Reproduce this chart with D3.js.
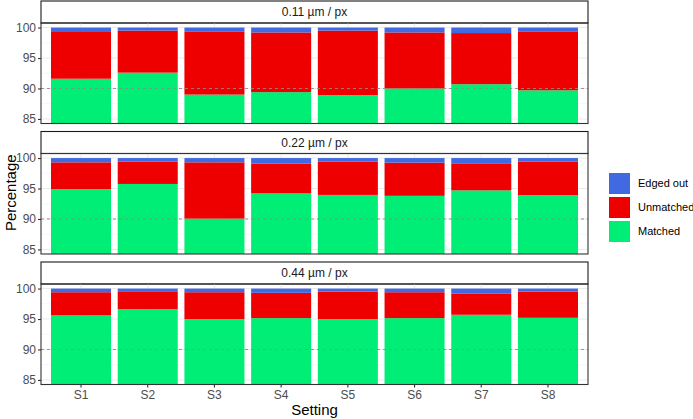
<!DOCTYPE html>
<html>
<head>
<meta charset="utf-8">
<script src="https://cdn.jsdelivr.net/npm/d3@7"></script>
<style>
  body { margin: 0; background: #fff; }
  svg text { font-family: "Liberation Sans", Arial, sans-serif; }
</style>
</head>
<body>
<div id="chart"></div>
<script>
const settings = ['S1', 'S2', 'S3', 'S4', 'S5', 'S6', 'S7', 'S8']
const resolutions = ['0.11 µm / px', '0.22 µm / px', '0.44 µm / px']
const yTicks = [85, 90, 95, 100]

// one array per panel, values in %
const matched = [
    [91.6, 92.6, 89.0, 89.4, 88.9, 90.0, 90.7, 89.7],
    [94.9, 95.75, 90.05, 94.2, 93.95, 93.8, 94.7, 93.9],
    [95.6, 96.6, 95.0, 95.15, 95.0, 95.15, 95.7, 95.2]
]
const unmatched = [
    [7.8, 6.9, 10.3, 9.8, 10.6, 9.2, 8.4, 9.6],
    [4.4, 3.65, 9.25, 4.9, 5.45, 5.45, 4.35, 5.5],
    [3.8, 2.95, 4.4, 4.15, 4.5, 4.25, 3.5, 4.3]
]
const edgedOut = [
    [0.6, 0.5, 0.7, 0.8, 0.5, 0.8, 0.9, 0.7],
    [0.7, 0.6, 0.7, 0.9, 0.6, 0.75, 0.95, 0.6],
    [0.6, 0.45, 0.6, 0.7, 0.5, 0.6, 0.8, 0.5]
]

const keys = ['Matched', 'Unmatched', 'Edged out']
const colors = { 'Matched': '#00EE76', 'Unmatched': '#EE0000', 'Edged out': '#4169E1' }

let width = 693
let height = 419
let left = 41, right = 588
let stripH = 22
let panelH = 100.5
let panelTops = [23, 153.5, 284]

let svg = d3.select('#chart')
    .append('svg')
    .attr('width', width)
    .attr('height', height)

let x = d3.scaleBand()
    .domain(settings)
    .range([left, right])
    .paddingInner(0.1)
    .paddingOuter(0.15)

let stack = d3.stack().keys(keys)

resolutions.forEach((res, p) => {
    let top = panelTops[p]
    let bottom = top + panelH
    let y = d3.scaleLinear()
        .domain([84.25, 100.75])
        .range([bottom, top])

    let rows = settings.map((s, i) => ({
        setting: s,
        'Matched': matched[p][i],
        'Unmatched': unmatched[p][i],
        'Edged out': edgedOut[p][i]
    }))
    let series = stack(rows)

    // strip
    svg.append('rect')
        .attr('x', left).attr('y', top - stripH)
        .attr('width', right - left).attr('height', stripH)
        .attr('fill', '#fff')
        .attr('stroke', '#1a1a1a').attr('stroke-width', 1.1)
    svg.append('text')
        .attr('x', (left + right) / 2).attr('y', top - stripH / 2)
        .attr('dy', '0.35em')
        .attr('text-anchor', 'middle')
        .attr('font-size', 12)
        .attr('fill', '#1a1a1a')
        .text(res)

    let g = svg.append('g')
    let clipId = 'clip' + p
    g.append('clipPath').attr('id', clipId)
        .append('rect')
        .attr('x', left).attr('y', top)
        .attr('width', right - left).attr('height', panelH)

    // grid
    let minor = [87.5, 92.5, 97.5]
    g.selectAll('.minor').data(minor).enter().append('line')
        .attr('x1', left).attr('x2', right)
        .attr('y1', d => y(d)).attr('y2', d => y(d))
        .attr('stroke', '#f2f2f2').attr('stroke-width', 0.6)
    g.selectAll('.major').data(yTicks).enter().append('line')
        .attr('x1', left).attr('x2', right)
        .attr('y1', d => y(d)).attr('y2', d => y(d))
        .attr('stroke', '#ebebeb').attr('stroke-width', 1.1)
    g.selectAll('.vmajor').data(settings).enter().append('line')
        .attr('x1', d => x(d) + x.bandwidth() / 2).attr('x2', d => x(d) + x.bandwidth() / 2)
        .attr('y1', top).attr('y2', bottom)
        .attr('stroke', '#ebebeb').attr('stroke-width', 1.1)

    // bars
    let bars = g.append('g').attr('clip-path', `url(#${clipId})`)
    bars.selectAll('.layer').data(series).enter().append('g')
        .attr('fill', d => colors[d.key])
        .selectAll('rect').data(d => d).enter().append('rect')
        .attr('x', d => x(d.data.setting))
        .attr('width', x.bandwidth())
        .attr('y', d => y(d[1]))
        .attr('height', d => y(d[0]) - y(d[1]))

    // dashed reference at 90
    g.append('line')
        .attr('x1', left).attr('x2', right)
        .attr('y1', y(90)).attr('y2', y(90))
        .attr('stroke', '#8c8c8c').attr('stroke-width', 0.9)
        .attr('stroke-dasharray', '3,3')

    // panel border
    g.append('rect')
        .attr('x', left).attr('y', top)
        .attr('width', right - left).attr('height', panelH)
        .attr('fill', 'none')
        .attr('stroke', '#333').attr('stroke-width', 1.1)

    // y axis
    let yAxis = d3.axisLeft(y).tickValues(yTicks).tickSize(3).tickPadding(2)
    let ya = svg.append('g')
        .attr('transform', `translate(${left},0)`)
        .call(yAxis)
    ya.select('.domain').remove()
    ya.selectAll('line').attr('stroke', '#333').attr('stroke-width', 1.1)
    ya.selectAll('text').attr('font-size', 12).attr('fill', '#4d4d4d')
        .attr('font-family', '"Liberation Sans", Arial, sans-serif')

    if (p === resolutions.length - 1) {
        let xa = svg.append('g')
            .attr('transform', `translate(0,${bottom})`)
            .call(d3.axisBottom(x).tickSize(3).tickPadding(3))
        xa.select('.domain').remove()
        xa.selectAll('line').attr('stroke', '#333').attr('stroke-width', 1.1)
        xa.selectAll('text').attr('font-size', 12).attr('fill', '#4d4d4d')
            .attr('font-family', '"Liberation Sans", Arial, sans-serif')
    }
})

// axis titles
svg.append('text')
    .attr('x', (left + right) / 2).attr('y', 415)
    .attr('text-anchor', 'middle')
    .attr('font-size', 15)
    .text('Setting')
svg.append('text')
    .attr('transform', `translate(16,${(panelTops[0] - stripH + panelTops[2] + panelH) / 2}) rotate(-90)`)
    .attr('text-anchor', 'middle')
    .attr('font-size', 15)
    .text('Percentage')

// legend
let legendKeys = ['Edged out', 'Unmatched', 'Matched']
let legend = svg.append('g').attr('transform', 'translate(608,172)')
let item = legend.selectAll('g').data(legendKeys).enter().append('g')
    .attr('transform', (d, i) => `translate(0,${i * 24})`)
item.append('rect')
    .attr('x', 0.5).attr('y', 0.5)
    .attr('width', 22).attr('height', 22)
    .attr('fill', d => colors[d])
    .attr('stroke', '#fff').attr('stroke-width', 1)
item.append('text')
    .attr('x', 30).attr('y', 11.5)
    .attr('dy', '0.35em')
    .attr('font-size', 11)
    .text(d => d)
</script>
</body>
</html>
